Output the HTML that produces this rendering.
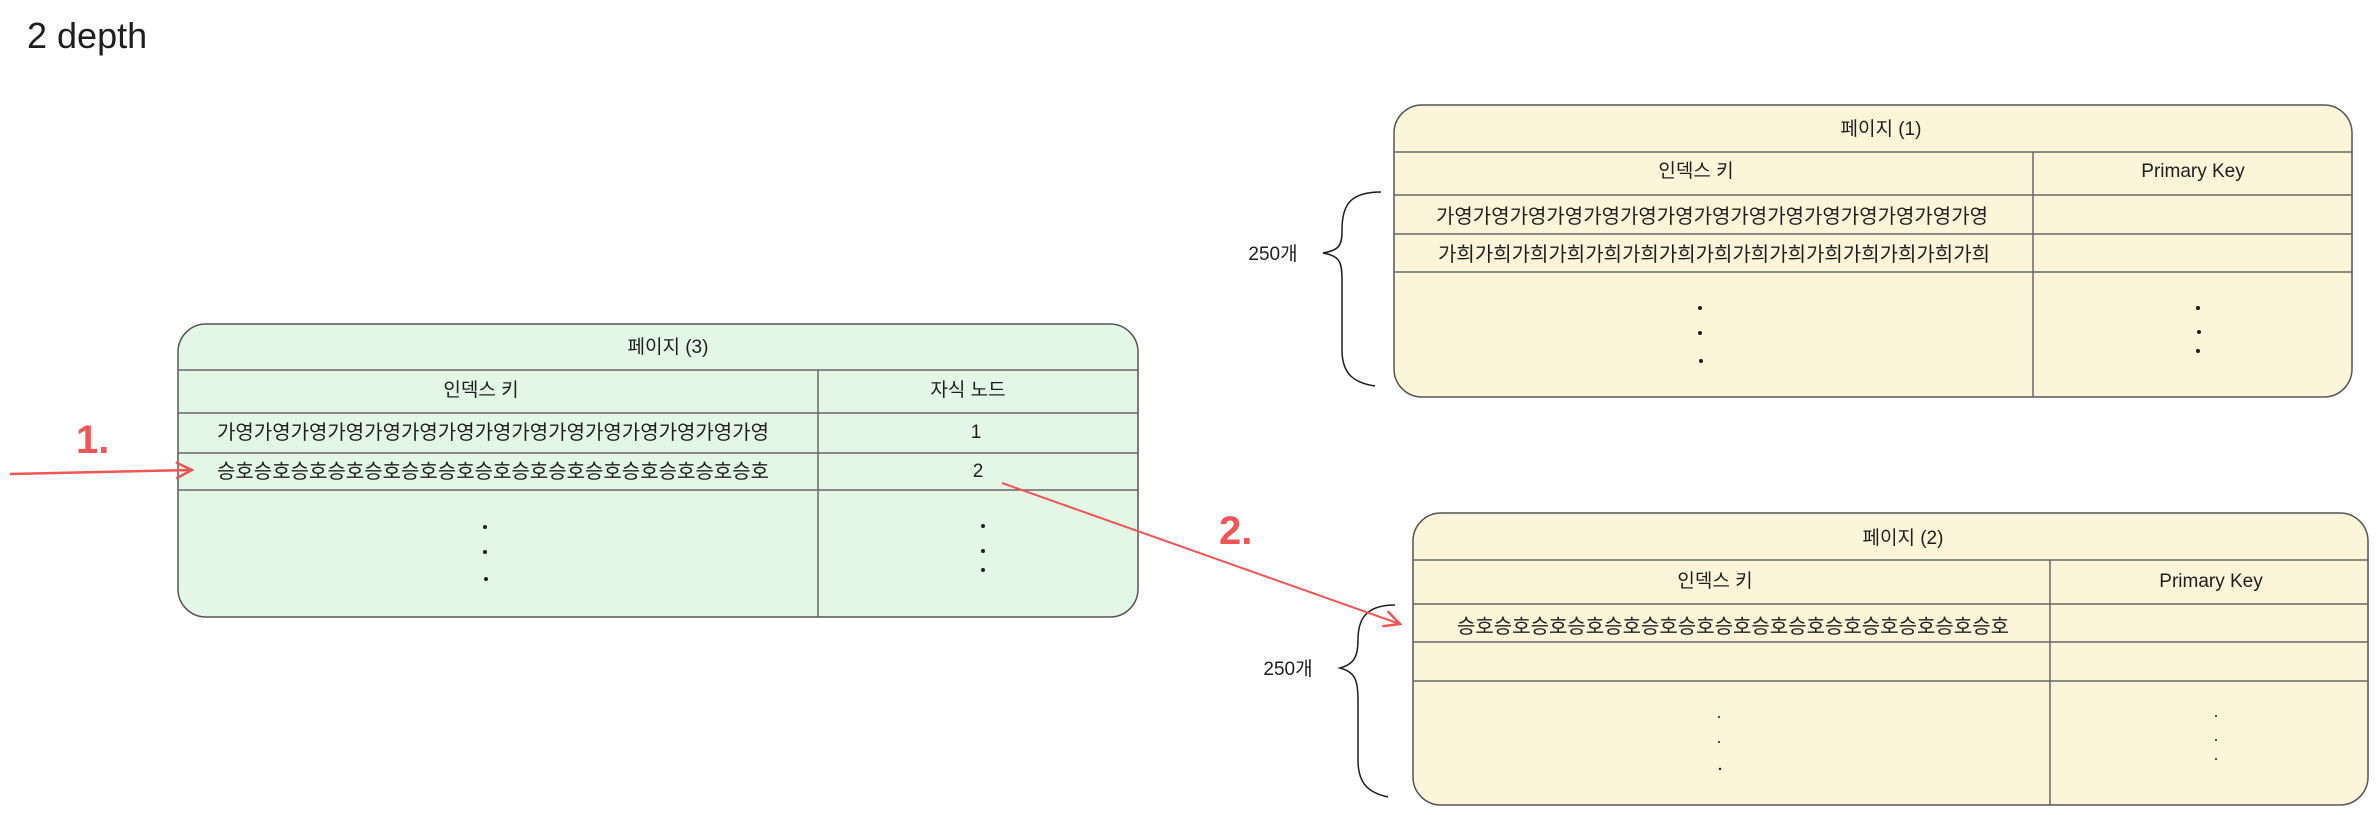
<!DOCTYPE html>
<html><head><meta charset="utf-8"><style>
html,body{margin:0;padding:0;background:#fff;}
svg{display:block;}
text{font-family:"Liberation Sans","Noto Sans CJK KR",sans-serif;fill:#1e1e1e;}
.r{font-size:20px;}
</style></head><body>
<svg width="2379" height="815" viewBox="0 0 2379 815" xmlns="http://www.w3.org/2000/svg">
<defs>
<marker id="ah" viewBox="0 0 20 20" refX="18" refY="10" markerWidth="20" markerHeight="20" markerUnits="userSpaceOnUse" orient="auto">
<path d="M2,2 L18,10 L2,18" fill="none" stroke="#f25555" stroke-width="2.5"/>
</marker>
</defs>
<text x="27" y="48" font-size="36">2 depth</text>

<!-- green box -->
<rect x="178" y="324" width="960" height="293" rx="28" fill="#e4f6e6" stroke="#555" stroke-width="1.5"/>
<g stroke="#666" stroke-width="1.5">
<line x1="178" y1="370" x2="1138" y2="370"/>
<line x1="178" y1="413" x2="1138" y2="413"/>
<line x1="178" y1="453" x2="1138" y2="453"/>
<line x1="178" y1="490" x2="1138" y2="490"/>
<line x1="818" y1="370" x2="818" y2="617"/>
</g>
<g font-size="19" text-anchor="middle">
<text x="668" y="353">페이지 (3)</text>
<text x="481" y="396">인덱스 키</text>
<text x="968" y="396">자식 노드</text>
<text class="r" x="493" y="439">가영가영가영가영가영가영가영가영가영가영가영가영가영가영가영</text>
<text class="r" x="493" y="478">승호승호승호승호승호승호승호승호승호승호승호승호승호승호승호</text>
<text x="976" y="438">1</text>
<text x="978" y="477">2</text>
</g>
<g fill="#1e1e1e">
<circle cx="485" cy="527" r="2"/><circle cx="485" cy="552" r="2"/><circle cx="486" cy="579" r="2"/>
<circle cx="983" cy="526" r="2"/><circle cx="983" cy="551" r="2"/><circle cx="983" cy="570" r="2"/>
</g>

<!-- yellow box 1 -->
<rect x="1394" y="105" width="958" height="292" rx="28" fill="#fcf5d9" stroke="#555" stroke-width="1.5"/>
<g stroke="#666" stroke-width="1.5">
<line x1="1394" y1="152" x2="2352" y2="152"/>
<line x1="1394" y1="195" x2="2352" y2="195"/>
<line x1="1394" y1="234" x2="2352" y2="234"/>
<line x1="1394" y1="272" x2="2352" y2="272"/>
<line x1="2033" y1="152" x2="2033" y2="397"/>
</g>
<g font-size="19" text-anchor="middle">
<text x="1881" y="135">페이지 (1)</text>
<text x="1696" y="177">인덱스 키</text>
<text x="2193" y="177">Primary Key</text>
<text class="r" x="1712" y="223">가영가영가영가영가영가영가영가영가영가영가영가영가영가영가영</text>
<text class="r" x="1714" y="261">가희가희가희가희가희가희가희가희가희가희가희가희가희가희가희</text>
<text x="1273" y="260">250개</text>
</g>
<g fill="#1e1e1e">
<circle cx="1700" cy="308" r="2"/><circle cx="1700" cy="333" r="2"/><circle cx="1701" cy="361" r="2"/>
<circle cx="2198" cy="308" r="2"/><circle cx="2199" cy="332" r="2"/><circle cx="2198" cy="351" r="2"/>
</g>
<path d="M1381,192 C1350,192 1342,205 1342,230 C1342,245 1340,250 1323,253 C1340,256 1342,262 1342,280 L1342,350 C1342,375 1355,383 1375,386" fill="none" stroke="#1e1e1e" stroke-width="1.5"/>

<!-- yellow box 2 -->
<rect x="1413" y="513" width="955" height="292" rx="28" fill="#fcf5d9" stroke="#555" stroke-width="1.5"/>
<g stroke="#666" stroke-width="1.5">
<line x1="1413" y1="560" x2="2368" y2="560"/>
<line x1="1413" y1="604" x2="2368" y2="604"/>
<line x1="1413" y1="642" x2="2368" y2="642"/>
<line x1="1413" y1="681" x2="2368" y2="681"/>
<line x1="2050" y1="560" x2="2050" y2="805"/>
</g>
<g font-size="19" text-anchor="middle">
<text x="1903" y="544">페이지 (2)</text>
<text x="1715" y="587">인덱스 키</text>
<text x="2211" y="587">Primary Key</text>
<text class="r" x="1733" y="633">승호승호승호승호승호승호승호승호승호승호승호승호승호승호승호</text>
<text x="1288" y="675">250개</text>
</g>
<g fill="#1e1e1e">
<circle cx="1719" cy="717" r="1"/><circle cx="1719" cy="742" r="1"/><circle cx="1720" cy="769" r="1.2"/>
<circle cx="2216" cy="716" r="1"/><circle cx="2216" cy="740" r="1"/><circle cx="2216" cy="759" r="1"/>
</g>
<path d="M1395,605 C1365,605 1358,620 1358,640 C1358,655 1355,664 1340,668 C1355,672 1358,680 1358,700 L1358,760 C1358,785 1370,793 1388,797" fill="none" stroke="#1e1e1e" stroke-width="1.5"/>

<!-- red arrows -->
<line x1="10" y1="474" x2="192" y2="470" stroke="#f25555" stroke-width="2.5" marker-end="url(#ah)"/>
<text x="76" y="453" font-size="40" font-weight="bold" style="fill:#f25555">1.</text>
<line x1="1002" y1="483" x2="1400" y2="624" stroke="#f25555" stroke-width="2" marker-end="url(#ah)"/>
<text x="1219" y="544" font-size="40" font-weight="bold" style="fill:#f25555">2.</text>
</svg>
</body></html>
